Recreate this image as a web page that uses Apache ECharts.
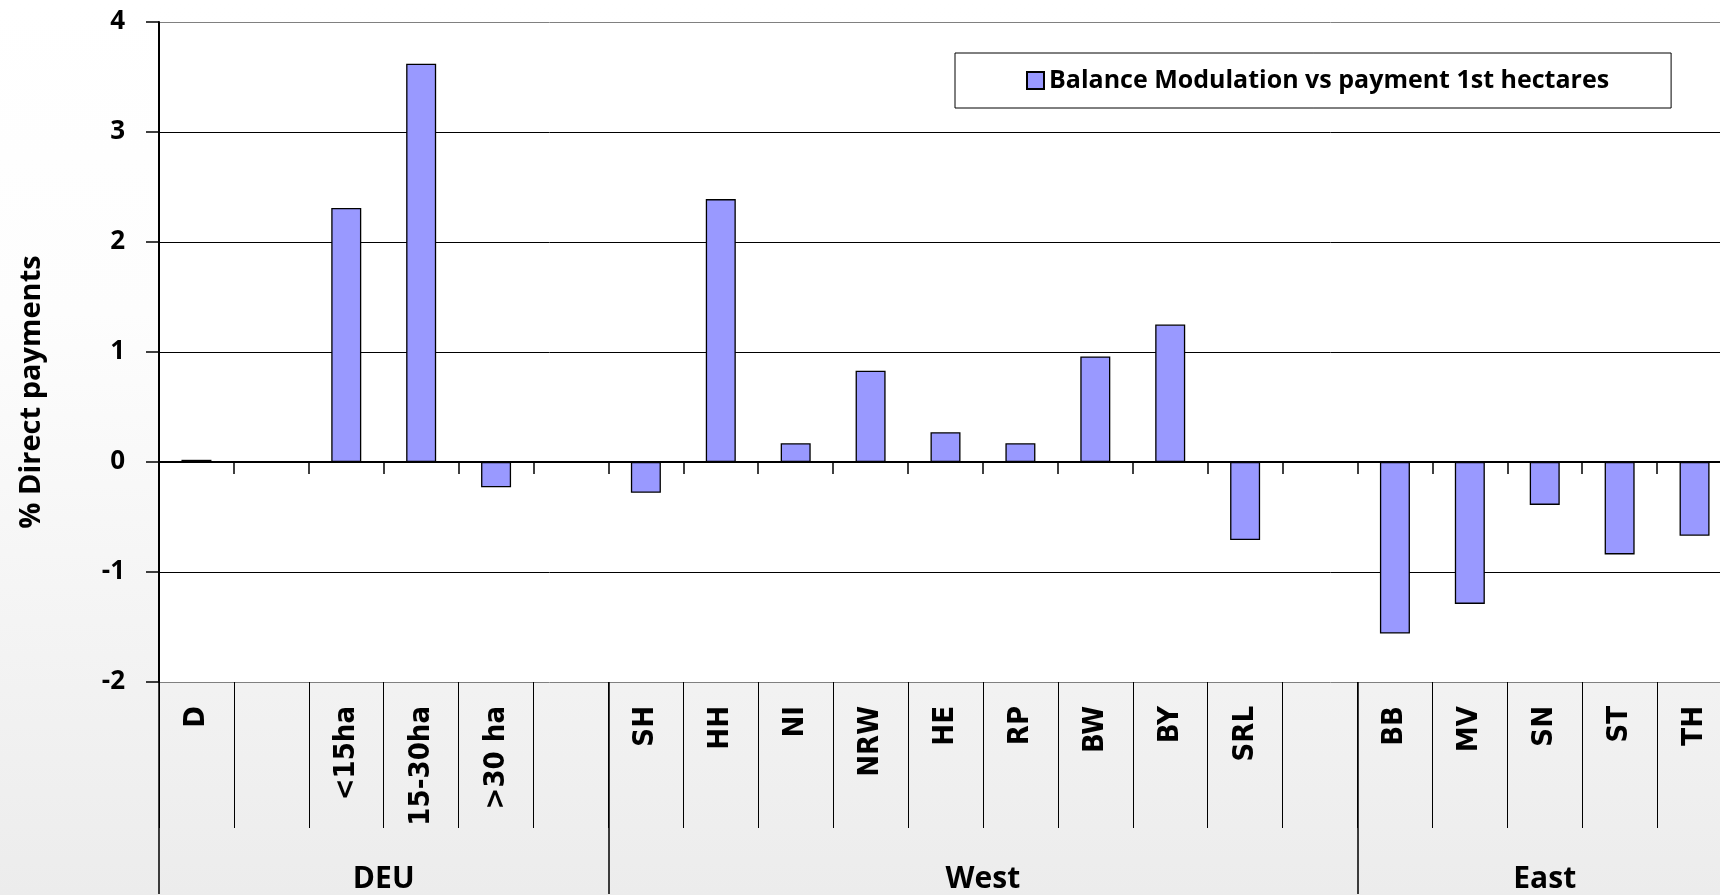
<!DOCTYPE html>
<html>
<head>
<meta charset="utf-8">
<script src="https://cdn.jsdelivr.net/npm/echarts@6/dist/echarts.min.js"></script>
<style>
  html, body { margin: 0; padding: 0; }
  #chart { width: 1720px; height: 895px; }
</style>
</head>
<body>
<div id="chart"></div>
<script>
  // categories on the lower axis (blank ones are spacer columns)
  const categories = ['D', '', '<15ha', '15-30ha', '>30 ha', '', 'SH', 'HH', 'NI', 'NRW', 'HE', 'RP', 'BW', 'BY', 'SRL', '', 'BB', 'MV', 'SN', 'ST', 'TH'];
  // % of direct payments
  const balanceValues = [0.02, null, 2.31, 3.62, -0.23, null, -0.28, 2.39, 0.17, 0.83, 0.27, 0.17, 0.96, 1.25, -0.71, null, -1.56, -1.29, -0.39, -0.84, -0.67];
  const groupNames = ['DEU', 'West', 'East'];
  const groupSizes = [6, 10, 5];
  const yTicks = [-2, -1, 0, 1, 2, 3, 4];
  const seriesName = 'Balance Modulation vs payment 1st hectares';

  // group boundaries and centers on a 0..n scale
  const groupStarts = [];
  const groupCenters = [];
  let acc = 0;
  groupSizes.forEach(function (s) {
    groupStarts.push(acc);
    groupCenters.push(acc + s / 2);
    acc += s;
  });

  const labelFont = '"Open Sans", Lato, sans-serif';
  const catFont = '"DejaVu Sans Condensed", "Liberation Sans", sans-serif';

  const myChart = echarts.init(document.getElementById('chart'));

  myChart.setOption({
    animation: false,
    backgroundColor: {
      type: 'linear', x: 0, y: 0, x2: 0, y2: 1,
      colorStops: [
        {offset: 0, color: '#ffffff'},
        {offset: 0.35, color: '#fdfdfd'},
        {offset: 1, color: '#ececec'}
      ]
    },
    grid: {
      left: 159,
      width: 1573,  // plot runs past the right edge of the picture
      top: 22,
      bottom: 213,
      outerBoundsMode: 'none',
      show: true,
      backgroundColor: '#ffffff',
      borderWidth: 0
    },
    legend: {
      data: [seriesName],
      left: 955,
      top: 53,
      backgroundColor: '#ffffff',
      borderColor: '#000000',
      borderWidth: 1,
      padding: [15, 62, 15, 71],
      itemWidth: 17,
      itemHeight: 17,
      itemGap: 10,
      icon: 'rect',
      textStyle: {
        fontFamily: labelFont,
        fontWeight: 'bold',
        fontSize: 25,
        color: '#000000'
      }
    },
    xAxis: [
      {
        // axis through zero with small boundary ticks
        type: 'category',
        data: categories,
        axisLine: {onZero: true, lineStyle: {color: '#000000', width: 2}},
        axisTick: {show: true, length: 12, lineStyle: {color: '#000000', width: 1.5}},
        axisLabel: {show: false},
        splitLine: {show: false}
      },
      {
        // category labels with long dividers
        type: 'category',
        data: categories,
        position: 'bottom',
        axisLine: {show: false, onZero: false},
        axisTick: {show: true, length: 146, lineStyle: {color: '#000000', width: 1}},
        axisLabel: {
          show: true,
          interval: 0,
          rotate: 90,
          margin: 24,
          fontFamily: catFont,
          fontWeight: 'bold',
          fontSize: 29,
          color: '#000000'
        },
        splitLine: {show: false}
      },
      {
        // group level: dividers and names
        type: 'value',
        min: 0,
        max: categories.length,
        position: 'bottom',
        axisLine: {show: false, onZero: false},
        axisTick: {
          show: true,
          customValues: groupStarts,
          length: 212,
          lineStyle: {color: '#000000', width: 1.5}
        },
        axisLabel: {
          show: true,
          customValues: groupCenters,
          margin: 182,
          fontFamily: labelFont,
          fontWeight: 'bold',
          fontSize: 30,
          color: '#000000',
          formatter: function (v) {
            const i = groupCenters.indexOf(v);
            return i >= 0 ? groupNames[i] : '';
          }
        },
        splitLine: {show: false}
      }
    ],
    yAxis: {
      type: 'value',
      min: yTicks[0],
      max: yTicks[yTicks.length - 1],
      interval: 1,
      name: '% Direct payments',
      nameLocation: 'middle',
      nameRotate: 90,
      nameGap: 113,
      nameTextStyle: {
        fontFamily: labelFont,
        fontWeight: 'bold',
        fontSize: 29,
        color: '#000000',
        padding: [0, 80, 0, 0]
      },
      axisLine: {show: true, lineStyle: {color: '#000000', width: 2}},
      axisTick: {show: true, length: 13, lineStyle: {color: '#000000', width: 1.5}},
      axisLabel: {
        margin: 34,
        fontFamily: labelFont,
        fontWeight: 'bold',
        fontSize: 26,
        color: '#000000'
      },
      splitLine: {
        show: true,
        lineStyle: {
          color: ['#808080', '#000000', '#000000', '#000000', '#000000', '#000000', '#808080'],
          width: 1
        }
      }
    },
    series: [
      {
        name: seriesName,
        type: 'bar',
        xAxisIndex: 0,
        yAxisIndex: 0,
        barWidth: 30,
        itemStyle: {
          color: '#9999ff',
          borderColor: '#000000',
          borderWidth: 1.3
        },
        data: balanceValues
      }
    ]
  });
</script>
</body>
</html>
